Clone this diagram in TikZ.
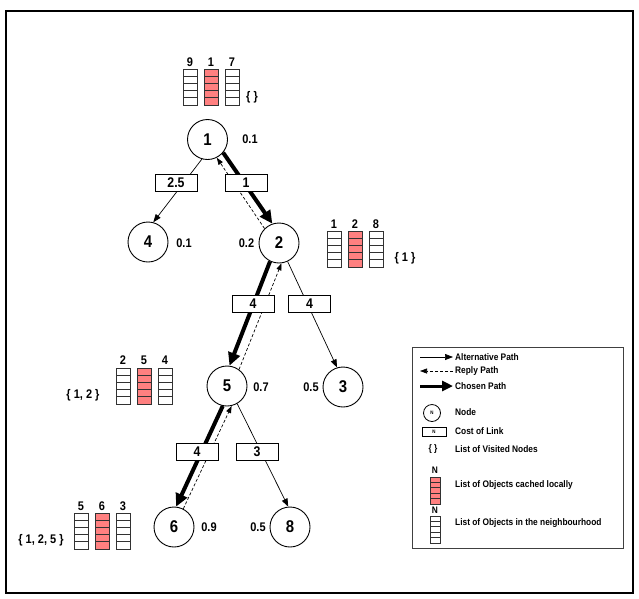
\documentclass[tikz,border=0pt]{standalone}
\usepackage{fontspec}
\setmainfont{Liberation Sans}[FakeStretch=0.88]
\usetikzlibrary{arrows.meta,calc}
\definecolor{cachered}{RGB}{255,128,128}
\definecolor{celledge}{RGB}{50,50,50}
% one column of five object cells: left x, top y, fill, cell height, width
\newcommand\objcolumn[5]{%
  \foreach \k in {0,...,4}{%
    \draw[cellline,fill=#3] (#1,#2+\k*#4) rectangle ++(#5,#4);}}
\begin{document}
\begin{tikzpicture}[x=1pt,y=-1pt,
  peer/.style={circle,draw,line width=0.9pt,minimum size=40pt,inner sep=0pt,
    font=\fontsize{17}{17}\selectfont\bfseries},
  cost/.style={draw,line width=0.9pt,minimum width=42pt,minimum height=17pt,
    inner sep=0pt,fill=white,font=\fontsize{14}{14}\selectfont\bfseries},
  val/.style={inner sep=0pt,font=\fontsize{12.5}{12.5}\selectfont\bfseries},
  legtext/.style={anchor=west,inner sep=0pt,font=\fontsize{9.5}{9.5}\selectfont\bfseries},
  tiny/.style={inner sep=0pt,font=\fontsize{5}{5}\selectfont\bfseries},
  cellline/.style={draw=celledge,line width=0.8pt},
  alt/.style={line width=0.7pt,-{Triangle[length=8pt,width=6pt]}},
  reply/.style={line width=0.7pt,dash pattern=on 3pt off 2pt,-{Triangle[length=7pt,width=5pt]}},
  chosen/.style={line width=4pt,-{Triangle[length=13pt,width=12pt]}},
]
\useasboundingbox (0,0) rectangle (639,598);
% outer frame
\draw[line width=2pt] (6,11) rectangle (633,593);

% peers
\node[peer] (n1) at (207.5,139.5) {1};
\node[peer] (n4) at (148,242) {4};
\node[peer] (n2) at (279,243) {2};
\node[peer] (n5) at (227,386) {5};
\node[peer] (n3) at (343,387) {3};
\node[peer] (n6) at (174,527) {6};
\node[peer] (n8) at (290,527) {8};

% node values
\node[val] (v1) at (250,139) {0.1};
\node[val] (v4) at (184,243) {0.1};
\node[val] (v2) at (246.5,243) {0.2};
\node[val] (v5) at (261,387) {0.7};
\node[val] (v3) at (311,387) {0.5};
\node[val] (v6) at (209,527) {0.9};
\node[val] (v8) at (258,527) {0.5};

% links
\draw[alt] (n1.-106) -- (n4.75);
\draw[chosen] (n1.-40) -- (n2.109);
\draw[reply] (n2.135) -- (n1.-63);
\draw[chosen] (n2.-116) -- (n5.83);
\draw[reply] (n5.54) -- (n2.-83);
\draw[alt] (n2.-65) -- (n3.107);
\draw[chosen] (n5.-102) -- (n6.84);
\draw[reply] (n6.63) -- (n5.-77);
\draw[alt] (n5.-60) -- (n8.95);

% link costs
\node[cost] (c14) at (176,183) {2.5};
\node[cost] (c12) at (246,183) {1};
\node[cost] (c25) at (253,303.5) {4};
\node[cost] (c23) at (309.5,303.5) {4};
\node[cost] (c56) at (197,451.5) {4};
\node[cost] (c58) at (257,451.5) {3};

% object lists at node 1
\objcolumn{183}{69}{white}{7.2}{14}
\objcolumn{204}{69}{cachered}{7.2}{14}
\objcolumn{225}{69}{white}{7.2}{14}
\node[val] (a1) at (190,62) {9};
\node[val] (a2) at (211,62) {1};
\node[val] (a3) at (232,62) {7};
\node[val] (av) at (252,97) {\{ \}};

% object lists at node 2
\objcolumn{327}{231}{white}{7.2}{14}
\objcolumn{348}{231}{cachered}{7.2}{14}
\objcolumn{369}{231}{white}{7.2}{14}
\node[val] (b1) at (334,224) {1};
\node[val] (b2) at (355,224) {2};
\node[val] (b3) at (376,224) {8};
\node[val] (bv) at (405,258) {\{ 1 \}};

% object lists at node 5
\objcolumn{116}{368}{white}{7.2}{14}
\objcolumn{137}{368}{cachered}{7.2}{14}
\objcolumn{158}{368}{white}{7.2}{14}
\node[val] (d1) at (123,360) {2};
\node[val] (d2) at (144,360) {5};
\node[val] (d3) at (165,360) {4};
\node[val] (dv) at (83,395) {\{ 1, 2 \}};

% object lists at node 6
\objcolumn{74}{513}{white}{7.2}{14}
\objcolumn{95}{513}{cachered}{7.2}{14}
\objcolumn{116}{513}{white}{7.2}{14}
\node[val] (e1) at (81,506) {5};
\node[val] (e2) at (102,506) {6};
\node[val] (e3) at (123,506) {3};
\node[val] (ev) at (41,540) {\{ 1, 2, 5 \}};

% legend
\draw[draw=black!75,line width=0.9pt] (412,347) rectangle (623,548);
\coordinate (la) at (420,357);
\coordinate (lb) at (453,357);
\draw[alt] (la) -- (lb);
\node[legtext] (t1) at (455,357) {Alternative Path};
\coordinate (lc) at (453,371);
\coordinate (ld) at (420,371);
\draw[reply] (lc) -- (ld);
\node[legtext] (t2) at (455,371) {Reply Path};
\coordinate (le) at (420,386);
\coordinate (lf) at (453,386);
\draw[line width=3pt,-{Triangle[length=11pt,width=10pt]}] (le) -- (lf);
\node[legtext] (t3) at (455,386) {Chosen Path};
\node[circle,draw,line width=0.8pt,minimum size=17pt,inner sep=0pt] (lnode) at (432,413) {};
\node[tiny] (lnodeN) at (lnode) {N};
\node[legtext] (t4) at (455,412) {Node};
\node[draw,line width=0.8pt,minimum width=24pt,minimum height=9pt,inner sep=0pt] (lcost) at (434,432) {};
\node[tiny] (lcostN) at (lcost) {N};
\node[legtext] (t5) at (455,431) {Cost of Link};
\node[val,font=\fontsize{9.5}{9.5}\selectfont\bfseries] (lbr) at (433,449) {\{ \}};
\node[legtext] (t6) at (455,449) {List of Visited Nodes};
\node[val,font=\fontsize{9.5}{9.5}\selectfont\bfseries] (lN1) at (435,470) {N};
\objcolumn{430}{477}{cachered}{5.4}{10}
\node[legtext] (t7) at (455,485) {List of Objects cached locally};
\node[val,font=\fontsize{9.5}{9.5}\selectfont\bfseries] (lN2) at (435,510) {N};
\objcolumn{430}{516}{white}{5.4}{10}
\node[legtext] (t8) at (455,523) {List of Objects in the neighbourhood};
\end{tikzpicture}
\end{document}
